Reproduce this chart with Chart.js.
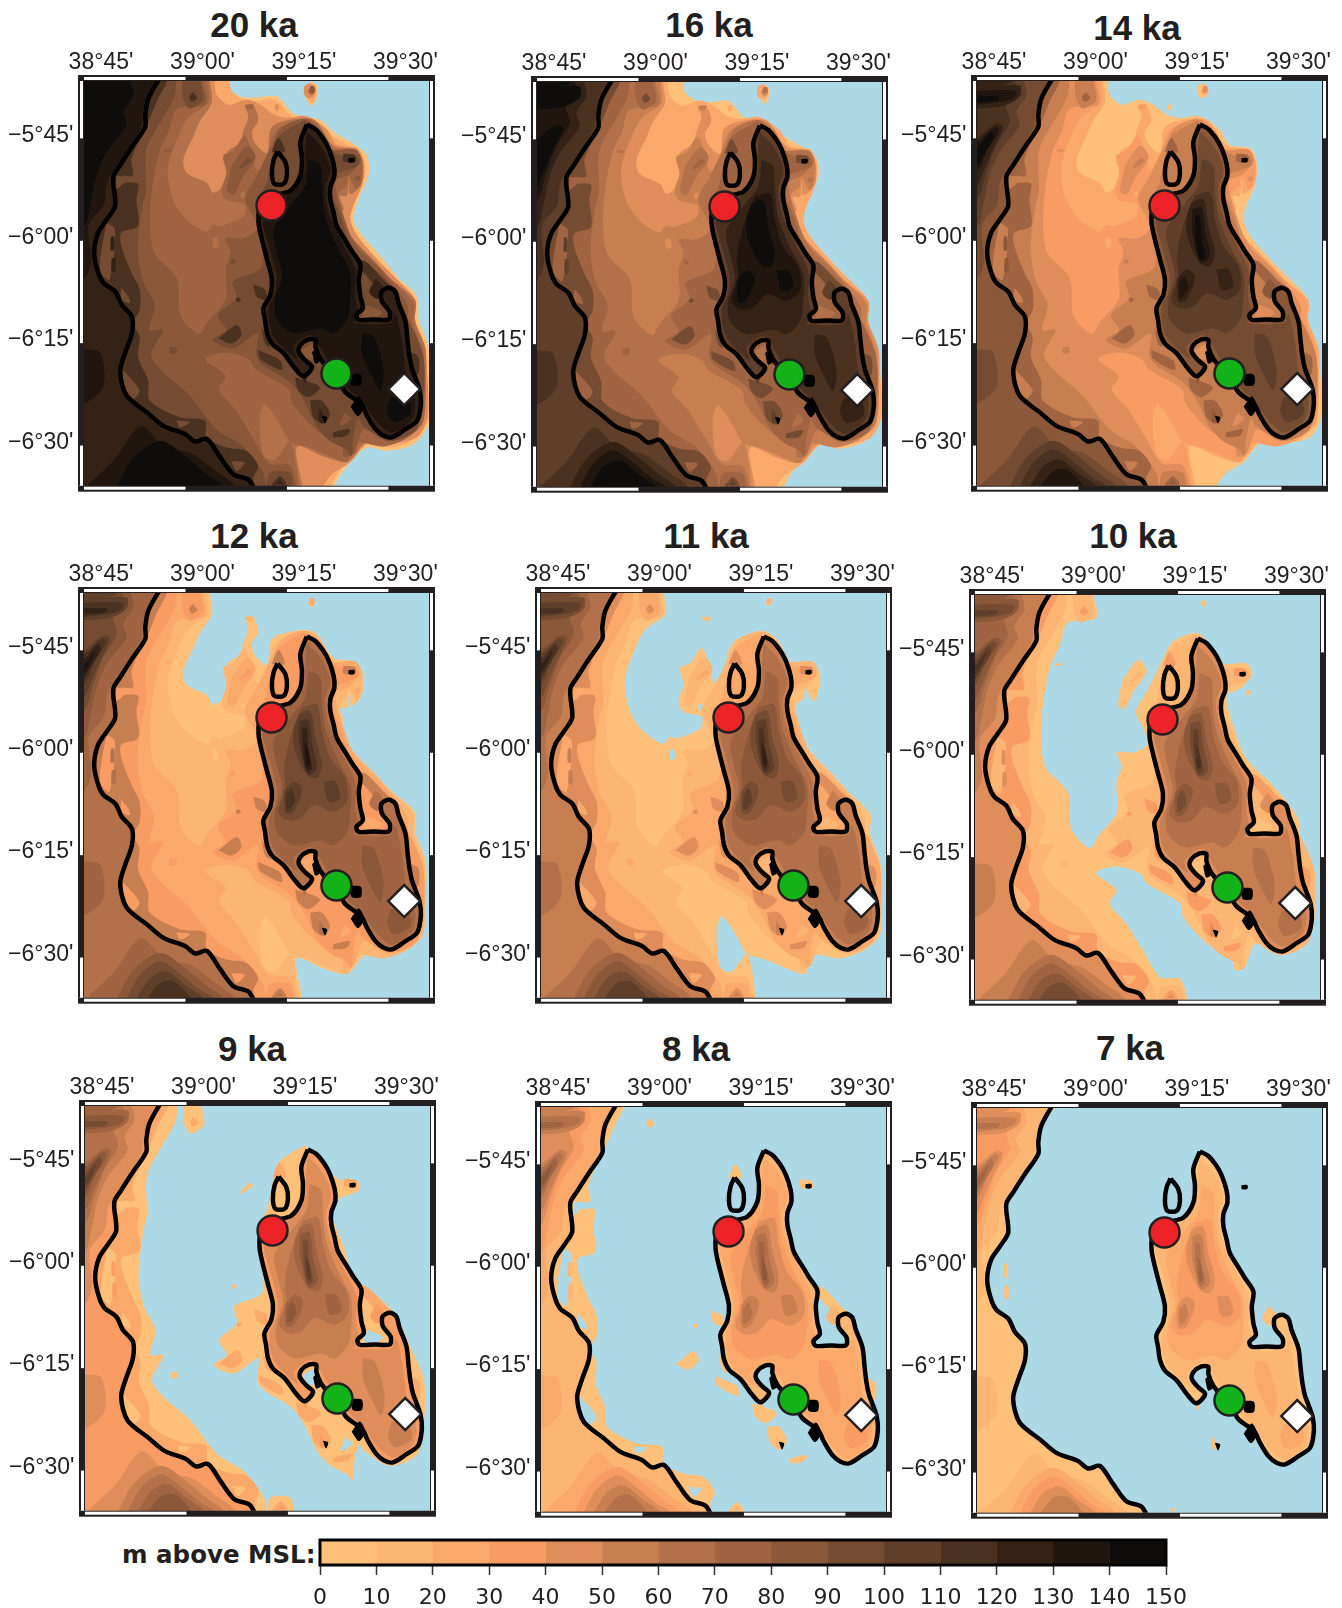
<!DOCTYPE html>
<html lang="en">
<head>
<meta charset="UTF-8">
<title>Palaeo-shorelines</title>
<script src="https://cdn.jsdelivr.net/npm/chart.js"></script>
<style>
    html, body { margin: 0; padding: 0; background: #fff; overflow: hidden; }
    body { position: relative; width: 1342px; height: 1608px; }
    canvas { position: absolute; }
    .panel-title {
        position: absolute; transform: translate(-50%, -50%); white-space: nowrap;
        font: bold 35px "Liberation Sans", Arial, sans-serif; color: #231f20;
    }
    #barLabel {
        position: absolute; left: 122px; top: 1554px; transform: translateY(-50%); white-space: nowrap;
        font: bold 24.5px "DejaVu Sans", sans-serif; color: #231f20;
    }
</style>
</head>
<body>
<div id="barLabel">m above MSL:</div>
<canvas id="colorBar" width="900" height="78" style="left:300px;top:1530px"></canvas>

<script>
// panels: title, and sea level in metres relative to the 7 ka sea
const panelNames = ['20 ka', '16 ka', '14 ka', '12 ka', '11 ka', '10 ka', '9 ka', '8 ka', '7 ka'];
const seaLevels = [-120, -100, -80, -60, -50, -40, -30, -10, 0];

// axes
const lonTicks = [38.75, 39, 39.25, 39.5];
const lonLabels = ["38°45'", "39°00'", "39°15'", "39°30'"];
const latTicks = [-5.75, -6, -6.25, -6.5];
const latLabels = ["−5°45'", "−6°00'", "−6°15'", "−6°30'"];

// colour scale
const barTicks = [0, 10, 20, 30, 40, 50, 60, 70, 80, 90, 100, 110, 120, 130, 140, 150];
const bandColors = ['#FFC07A', '#FDB574', '#FBA86B', '#F89C63', '#DF8E5B', '#C77F51', '#B2714B', '#A06442',
    '#8B5839', '#754C31', '#5F3F29', '#4A3120', '#352216', '#21160F', '#0E0D0C'];

// sites [lon, lat]
const redSite = [39.212, -5.914];
const greenSite = [39.372, -6.324];
const whiteSite = [39.539, -6.362];

// modern coastlines, flat lon,lat lists
const coastIsland = [39.299,-5.716, 39.320,-5.727, 39.339,-5.750, 39.353,-5.775, 39.365,-5.812, 39.367,-5.841, 39.357,-5.869, 39.357,-5.898, 39.365,-5.931, 39.373,-5.964, 39.398,-6.005, 39.410,-6.025, 39.431,-6.058, 39.427,-6.095, 39.431,-6.136, 39.437,-6.165, 39.421,-6.181, 39.427,-6.193, 39.464,-6.192, 39.501,-6.192, 39.503,-6.173, 39.484,-6.148, 39.483,-6.124, 39.501,-6.115, 39.517,-6.124, 39.525,-6.152, 39.542,-6.197, 39.547,-6.242, 39.552,-6.283, 39.558,-6.312, 39.566,-6.333, 39.577,-6.365, 39.580,-6.398, 39.571,-6.439, 39.542,-6.460, 39.509,-6.480, 39.488,-6.476, 39.468,-6.460, 39.447,-6.427, 39.435,-6.402, 39.416,-6.386, 39.394,-6.370, 39.377,-6.341, 39.353,-6.312, 39.332,-6.288, 39.320,-6.259, 39.320,-6.242, 39.303,-6.241, 39.283,-6.255, 39.279,-6.271, 39.295,-6.292, 39.312,-6.308, 39.291,-6.331, 39.270,-6.312, 39.242,-6.275, 39.213,-6.251, 39.201,-6.226, 39.196,-6.193, 39.192,-6.165, 39.209,-6.132, 39.213,-6.095, 39.201,-6.046, 39.188,-5.996, 39.180,-5.955, 39.184,-5.914, 39.213,-5.890, 39.258,-5.878, 39.283,-5.841, 39.287,-5.800, 39.283,-5.759];
const coastTumbatu = [39.227,-5.782, 39.246,-5.808, 39.250,-5.837, 39.242,-5.861, 39.219,-5.861, 39.213,-5.837, 39.217,-5.804];
const coastMainland = [38.944,-5.590, 38.909,-5.652, 38.901,-5.693, 38.901,-5.722, 38.868,-5.771, 38.839,-5.816, 38.822,-5.845, 38.827,-5.914, 38.810,-5.943, 38.785,-5.980, 38.775,-6.029, 38.785,-6.078, 38.798,-6.103, 38.827,-6.124, 38.843,-6.156, 38.868,-6.185, 38.868,-6.226, 38.851,-6.275, 38.839,-6.320, 38.855,-6.378, 38.905,-6.419, 38.946,-6.452, 38.999,-6.472, 39.024,-6.490, 39.053,-6.484, 39.086,-6.529, 39.118,-6.570, 39.155,-6.583, 39.172,-6.611];
const islet1 = [39.405,-6.325, 39.432,-6.327, 39.432,-6.352, 39.410,-6.352];
const islet2 = [39.407,-6.405, 39.427,-6.380, 39.440,-6.405, 39.425,-6.428];
const islet3 = [39.336,-6.427, 39.349,-6.431, 39.344,-6.446];
const islet4 = [39.402,-5.798, 39.416,-5.798, 39.416,-5.808, 39.402,-5.808];
const islet5 = [39.312,-6.272, 39.324,-6.262, 39.332,-6.292, 39.320,-6.300];

// contour polygons: land above each height
const land120 = [39.100,-5.570, 39.102,-5.623, 39.135,-5.648, 39.176,-5.650, 39.225,-5.648, 39.266,-5.689, 39.332,-5.705, 39.365,-5.734, 39.414,-5.763, 39.447,-5.791, 39.451,-5.841, 39.427,-5.898, 39.414,-5.947, 39.431,-5.980, 39.480,-6.037, 39.529,-6.095, 39.571,-6.136, 39.575,-6.193, 39.599,-6.259, 39.603,-6.333, 39.603,-6.439, 39.562,-6.497, 39.497,-6.513, 39.447,-6.505, 39.402,-6.546, 39.365,-6.599, 39.357,-6.636, 38.707,-6.636, 38.707,-5.570];
const rock120 = [39.312,-5.611, 39.326,-5.623, 39.322,-5.656, 39.312,-5.670, 39.298,-5.656, 39.295,-5.627];
const land100 = [39.110,-5.570, 39.112,-5.629, 39.143,-5.656, 39.176,-5.659, 39.221,-5.656, 39.262,-5.697, 39.328,-5.714, 39.358,-5.742, 39.408,-5.771, 39.439,-5.798, 39.443,-5.841, 39.418,-5.898, 39.406,-5.949, 39.423,-5.987, 39.472,-6.044, 39.523,-6.101, 39.562,-6.142, 39.566,-6.197, 39.591,-6.263, 39.595,-6.333, 39.595,-6.435, 39.556,-6.488, 39.497,-6.505, 39.443,-6.497, 39.396,-6.539, 39.358,-6.600, 39.353,-6.636, 38.707,-6.636, 38.707,-5.570];
const rock100 = [39.312,-5.615, 39.322,-5.626, 39.320,-5.652, 39.312,-5.664, 39.301,-5.652, 39.299,-5.629];
const land80 = [39.071,-5.570, 39.071,-5.604, 39.077,-5.643, 39.106,-5.668, 39.151,-5.655, 39.192,-5.672, 39.217,-5.692, 39.250,-5.700, 39.299,-5.696, 39.349,-5.729, 39.373,-5.766, 39.423,-5.774, 39.439,-5.807, 39.435,-5.864, 39.414,-5.914, 39.406,-5.946, 39.423,-5.987, 39.472,-6.045, 39.521,-6.094, 39.566,-6.143, 39.566,-6.192, 39.587,-6.266, 39.595,-6.315, 39.597,-6.430, 39.571,-6.479, 39.505,-6.496, 39.447,-6.496, 39.406,-6.541, 39.361,-6.570, 39.340,-6.600, 39.336,-6.636, 38.707,-6.636, 38.707,-5.570];
const rock80 = [39.306,-5.615, 39.320,-5.627, 39.316,-5.648, 39.303,-5.652, 39.293,-5.644, 39.293,-5.623];
const speck80 = [39.221,-5.667, 39.229,-5.667, 39.229,-5.681, 39.221,-5.681];
const land60 = [39.059,-5.570, 39.059,-5.604, 39.065,-5.662, 39.036,-5.707, 39.020,-5.744, 38.995,-5.801, 39.003,-5.834, 39.053,-5.859, 39.069,-5.883, 39.102,-5.855, 39.102,-5.785, 39.135,-5.760, 39.143,-5.730, 39.155,-5.697, 39.147,-5.670, 39.164,-5.667, 39.178,-5.693, 39.178,-5.711, 39.164,-5.734, 39.172,-5.763, 39.201,-5.785, 39.213,-5.722, 39.283,-5.701, 39.320,-5.707, 39.365,-5.768, 39.414,-5.777, 39.435,-5.801, 39.435,-5.859, 39.406,-5.886, 39.402,-5.849, 39.398,-5.890, 39.380,-5.891, 39.390,-5.923, 39.381,-5.932, 39.410,-5.998, 39.464,-6.055, 39.509,-6.096, 39.566,-6.146, 39.566,-6.195, 39.591,-6.260, 39.593,-6.326, 39.587,-6.433, 39.554,-6.474, 39.488,-6.494, 39.443,-6.494, 39.410,-6.531, 39.390,-6.541, 39.340,-6.527, 39.275,-6.502, 39.287,-6.600, 39.287,-6.636, 38.707,-6.636, 38.707,-5.570];
const rock60 = [39.312,-5.621, 39.320,-5.632, 39.312,-5.645, 39.302,-5.636];
const land50 = [39.052,-5.570, 39.052,-5.604, 39.056,-5.662, 39.011,-5.695, 38.990,-5.727, 38.957,-5.822, 38.970,-5.900, 39.003,-5.949, 39.052,-5.978, 39.068,-5.961, 39.085,-5.965, 39.142,-5.941, 39.146,-5.912, 39.101,-5.900, 39.089,-5.875, 39.101,-5.834, 39.093,-5.793, 39.118,-5.781, 39.146,-5.744, 39.167,-5.793, 39.175,-5.826, 39.196,-5.822, 39.212,-5.752, 39.233,-5.723, 39.298,-5.703, 39.335,-5.727, 39.364,-5.777, 39.418,-5.777, 39.434,-5.801, 39.434,-5.846, 39.422,-5.875, 39.401,-5.842, 39.397,-5.867, 39.377,-5.883, 39.377,-5.924, 39.409,-5.990, 39.463,-6.047, 39.508,-6.096, 39.561,-6.150, 39.561,-6.199, 39.586,-6.269, 39.586,-6.334, 39.586,-6.441, 39.545,-6.482, 39.487,-6.502, 39.422,-6.494, 39.401,-6.539, 39.377,-6.535, 39.307,-6.506, 39.257,-6.490, 39.233,-6.449, 39.196,-6.400, 39.183,-6.433, 39.192,-6.523, 39.220,-6.535, 39.257,-6.491, 39.270,-6.531, 39.278,-6.598, 39.278,-6.636, 38.707,-6.636, 38.707,-5.570];
const rock50 = [39.311,-5.623, 39.319,-5.633, 39.311,-5.642, 39.303,-5.633];
const speck50 = [39.147,-5.668, 39.168,-5.668, 39.164,-5.678, 39.151,-5.677];
const pond50a = [39.066,-5.996, 39.077,-5.992, 39.081,-6.013, 39.069,-6.017];
const pond50b = [39.286,-6.269, 39.303,-6.256, 39.307,-6.289, 39.290,-6.281];
const pond50c = [39.137,-5.882, 39.147,-5.880, 39.147,-5.894, 39.137,-5.894];
const pond50d = [39.446,-6.169, 39.455,-6.169, 39.455,-6.177, 39.446,-6.177];
const land40 = [39.041,-5.570, 39.041,-5.604, 39.049,-5.666, 38.979,-5.678, 38.959,-5.732, 38.934,-5.789, 38.914,-5.912, 38.922,-6.027, 38.979,-6.092, 38.988,-6.183, 39.033,-6.228, 39.053,-6.199, 39.099,-6.142, 39.099,-6.068, 39.111,-6.027, 39.099,-5.994, 39.144,-5.994, 39.177,-5.969, 39.148,-5.904, 39.148,-5.887, 39.173,-5.846, 39.214,-5.764, 39.238,-5.723, 39.296,-5.703, 39.337,-5.740, 39.362,-5.777, 39.419,-5.777, 39.432,-5.805, 39.403,-5.838, 39.370,-5.855, 39.386,-5.928, 39.419,-6.010, 39.485,-6.076, 39.547,-6.158, 39.547,-6.215, 39.584,-6.273, 39.588,-6.388, 39.567,-6.461, 39.501,-6.490, 39.440,-6.461, 39.415,-6.519, 39.390,-6.527, 39.386,-6.502, 39.321,-6.461, 39.263,-6.396, 39.255,-6.363, 39.173,-6.314, 39.156,-6.289, 39.099,-6.273, 39.049,-6.289, 39.099,-6.330, 39.082,-6.363, 39.123,-6.412, 39.164,-6.478, 39.206,-6.543, 39.255,-6.547, 39.273,-6.597, 39.273,-6.636, 38.707,-6.636, 38.707,-5.570];
const block40 = [39.115,-5.814, 39.152,-5.768, 39.173,-5.797, 39.140,-5.846, 39.119,-5.887, 39.103,-5.879];
const rock40a = [39.418,-5.843, 39.429,-5.843, 39.429,-5.853, 39.418,-5.853];
const rock40b = [39.307,-5.623, 39.317,-5.623, 39.317,-5.636, 39.307,-5.636];
const rock40c = [38.947,-5.777, 38.964,-5.777, 38.964,-5.782, 38.947,-5.782];
const pond40a = [39.443,-6.165, 39.455,-6.154, 39.465,-6.165, 39.455,-6.177];
const pond40b = [39.288,-6.260, 39.317,-6.248, 39.317,-6.273, 39.308,-6.285, 39.292,-6.285];
const pond40c = [38.796,-6.072, 38.806,-6.072, 38.806,-6.085, 38.796,-6.085];
const land30 = [38.977,-5.570, 38.977,-5.604, 38.973,-5.648, 38.944,-5.701, 38.903,-5.779, 38.903,-5.878, 38.895,-5.910, 38.882,-6.017, 38.895,-6.099, 38.924,-6.156, 38.911,-6.218, 38.944,-6.218, 38.915,-6.279, 38.944,-6.320, 39.010,-6.378, 39.076,-6.460, 39.141,-6.501, 39.191,-6.566, 39.199,-6.600, 39.207,-6.566, 39.256,-6.566, 39.265,-6.600, 39.265,-6.636, 38.707,-6.636, 38.707,-5.570];
const blob30 = [38.993,-5.570, 39.035,-5.570, 39.035,-5.604, 39.043,-5.656, 39.010,-5.677, 38.993,-5.648];
const isle30 = [39.293,-5.705, 39.372,-5.787, 39.425,-5.796, 39.425,-5.816, 39.367,-5.841, 39.359,-5.878, 39.384,-5.943, 39.413,-6.025, 39.470,-6.074, 39.511,-6.115, 39.544,-6.181, 39.585,-6.279, 39.585,-6.386, 39.569,-6.460, 39.503,-6.488, 39.437,-6.452, 39.425,-6.435, 39.413,-6.484, 39.409,-6.525, 39.396,-6.509, 39.355,-6.488, 39.322,-6.452, 39.289,-6.386, 39.257,-6.345, 39.191,-6.304, 39.174,-6.279, 39.178,-6.226, 39.117,-6.263, 39.067,-6.242, 39.100,-6.218, 39.080,-6.181, 39.125,-6.140, 39.117,-6.099, 39.183,-6.070, 39.192,-6.029, 39.178,-5.943, 39.174,-5.910, 39.199,-5.861, 39.211,-5.804, 39.228,-5.746];
const strip30 = [39.154,-5.796, 39.164,-5.804, 39.135,-5.824, 39.133,-5.820];
const rock30a = [39.112,-6.046, 39.122,-6.046, 39.122,-6.055, 39.112,-6.055];
const rock30b = [38.961,-6.260, 38.977,-6.260, 38.977,-6.274, 38.961,-6.274];
const pond30a = [38.800,-5.996, 38.809,-6.009, 38.800,-6.021];
const pond30b = [38.800,-6.050, 38.810,-6.062, 38.814,-6.095, 38.799,-6.091];
const pond30c = [39.446,-6.156, 39.483,-6.173, 39.474,-6.185, 39.437,-6.185];
const pond30d = [39.285,-6.267, 39.318,-6.251, 39.318,-6.288, 39.298,-6.288];
const pond30e = [39.392,-6.419, 39.409,-6.435, 39.380,-6.452];
const land10below = [38.957,-5.570, 38.957,-5.604, 38.929,-5.660, 38.912,-5.701, 38.867,-5.800, 38.871,-5.841, 38.842,-5.842, 38.842,-5.857, 38.883,-5.861, 38.879,-5.898, 38.883,-5.964, 38.842,-5.980, 38.842,-6.013, 38.867,-6.078, 38.887,-6.119, 38.887,-6.169, 38.871,-6.201, 38.887,-6.234, 38.883,-6.283, 38.908,-6.341, 38.912,-6.390, 38.986,-6.431, 39.048,-6.439, 39.052,-6.480, 39.101,-6.505, 39.150,-6.513, 39.179,-6.550, 39.167,-6.579, 39.171,-6.600, 39.171,-6.636, 38.707,-6.636, 38.707,-5.570];
const reefs10 = [
    [39.421,-6.050, 39.443,-6.050, 39.488,-6.095, 39.506,-6.115, 39.484,-6.128, 39.468,-6.111, 39.447,-6.087, 39.435,-6.074],
    [39.553,-6.271, 39.574,-6.283, 39.574,-6.324, 39.561,-6.324],
    [39.212,-5.783, 39.229,-5.749, 39.245,-5.783],
    [39.167,-6.107, 39.196,-6.119, 39.200,-6.144, 39.175,-6.136],
    [39.187,-6.210, 39.208,-6.259, 39.196,-6.251],
    [39.081,-6.238, 39.126,-6.206, 39.138,-6.230, 39.113,-6.251],
    [39.125,-6.140, 39.135,-6.140, 39.135,-6.148, 39.125,-6.148],
    [39.179,-6.267, 39.233,-6.292, 39.237,-6.316, 39.183,-6.288],
    [39.270,-6.333, 39.331,-6.357, 39.303,-6.382, 39.278,-6.365],
    [39.307,-6.390, 39.335,-6.390, 39.356,-6.423, 39.339,-6.447, 39.315,-6.431],
    [39.364,-6.468, 39.405,-6.460, 39.397,-6.476, 39.364,-6.479],
    [39.019,-5.636, 39.029,-5.652, 39.015,-5.660, 39.009,-5.648],
    [39.389,-5.787, 39.418,-5.791, 39.418,-5.808, 39.389,-5.806],
    [39.212,-6.595, 39.233,-6.575, 39.249,-6.595, 39.249,-6.636, 39.212,-6.636]
];
const lagoons10 = [
    [38.805,-5.955, 38.826,-5.972, 38.813,-6.095, 38.789,-6.070],
    [38.842,-6.115, 38.859,-6.136, 38.863,-6.152, 38.842,-6.144],
    [38.846,-6.316, 38.887,-6.365, 38.871,-6.386, 38.850,-6.374],
    [38.978,-6.439, 39.011,-6.443, 38.986,-6.456],
    [39.113,-6.538, 39.146,-6.542, 39.126,-6.562],
    [38.830,-5.841, 38.855,-5.849, 38.830,-5.873]
];
const main0 = [38.944,-5.570, 38.944,-5.604, 38.909,-5.652, 38.901,-5.693, 38.901,-5.722, 38.868,-5.771, 38.839,-5.816, 38.822,-5.845, 38.827,-5.914, 38.810,-5.943, 38.785,-5.980, 38.775,-6.029, 38.785,-6.078, 38.798,-6.103, 38.827,-6.124, 38.843,-6.156, 38.868,-6.185, 38.868,-6.226, 38.851,-6.275, 38.839,-6.320, 38.855,-6.378, 38.905,-6.419, 38.946,-6.452, 38.999,-6.472, 39.024,-6.490, 39.053,-6.484, 39.086,-6.529, 39.118,-6.570, 39.155,-6.583, 39.172,-6.611, 39.172,-6.636, 38.707,-6.636, 38.707,-5.570];
const bits0 = [
    [38.816,-5.990, 38.824,-5.990, 38.824,-6.023, 38.816,-6.023],
    [38.818,-6.043, 38.827,-6.043, 38.827,-6.076, 38.818,-6.076],
    [39.469,-6.092, 39.486,-6.113, 39.474,-6.142, 39.453,-6.125],
    [39.330,-6.408, 39.346,-6.441, 39.330,-6.441],
    [39.289,-6.338, 39.299,-6.328, 39.295,-6.349],
    [39.224,-6.593, 39.232,-6.585, 39.240,-6.593]
];
const nw10 = [38.943,-5.570, 38.943,-5.596, 38.898,-5.674, 38.890,-5.723, 38.845,-5.797, 38.808,-5.855, 38.799,-5.912, 38.762,-5.961, 38.767,-6.051, 38.750,-6.092, 38.709,-6.092, 38.709,-5.570];
const sw10 = [38.750,-6.265, 38.790,-6.273, 38.798,-6.355, 38.750,-6.398, 38.707,-6.398, 38.707,-6.265];
const south10 = [38.758,-6.597, 38.824,-6.535, 38.890,-6.453, 38.947,-6.502, 39.013,-6.519, 39.071,-6.560, 39.120,-6.597, 39.120,-6.636, 38.758,-6.636];
const isle10 = [39.299,-5.734, 39.332,-5.767, 39.357,-5.824, 39.344,-5.873, 39.353,-5.931, 39.386,-6.005, 39.418,-6.070, 39.418,-6.136, 39.427,-6.185, 39.414,-6.201, 39.505,-6.201, 39.517,-6.177, 39.534,-6.251, 39.542,-6.316, 39.566,-6.390, 39.558,-6.435, 39.509,-6.468, 39.476,-6.447, 39.439,-6.398, 39.398,-6.357, 39.365,-6.316, 39.332,-6.259, 39.307,-6.230, 39.266,-6.259, 39.275,-6.288, 39.242,-6.263, 39.213,-6.226, 39.205,-6.165, 39.221,-6.128, 39.225,-6.087, 39.201,-5.996, 39.192,-5.947, 39.242,-5.898, 39.291,-5.841, 39.295,-5.775];
const nw20 = [38.864,-5.570, 38.864,-5.604, 38.872,-5.644, 38.847,-5.685, 38.855,-5.718, 38.806,-5.783, 38.781,-5.841, 38.765,-5.914, 38.750,-5.964, 38.707,-5.964, 38.707,-5.570];
const south20 = [38.831,-6.600, 38.872,-6.529, 38.938,-6.488, 39.003,-6.529, 39.053,-6.570, 39.094,-6.600, 39.094,-6.636, 38.831,-6.636];
const isle20 = [39.303,-5.800, 39.332,-5.816, 39.336,-5.873, 39.344,-5.939, 39.373,-6.013, 39.406,-6.078, 39.406,-6.144, 39.398,-6.193, 39.365,-6.226, 39.332,-6.214, 39.266,-6.226, 39.225,-6.193, 39.221,-6.144, 39.238,-6.087, 39.225,-6.029, 39.217,-5.972, 39.258,-5.914, 39.295,-5.865];
const patch20a = [39.435,-6.226, 39.464,-6.234, 39.488,-6.316, 39.480,-6.365, 39.455,-6.324, 39.435,-6.275];
const patch20b = [39.505,-6.382, 39.546,-6.382, 39.554,-6.423, 39.513,-6.443, 39.497,-6.415];
const nw30 = [38.839,-5.570, 38.839,-5.604, 38.859,-5.644, 38.822,-5.668, 38.831,-5.709, 38.798,-5.767, 38.773,-5.832, 38.750,-5.898, 38.707,-5.898, 38.707,-5.570];
const south30 = [38.855,-6.600, 38.888,-6.542, 38.938,-6.509, 38.995,-6.546, 39.036,-6.579, 39.069,-6.600, 39.069,-6.636, 38.855,-6.636];
const isle30up = [39.287,-5.890, 39.324,-5.882, 39.336,-5.947, 39.357,-6.013, 39.394,-6.062, 39.398,-6.119, 39.365,-6.144, 39.316,-6.128, 39.283,-6.160, 39.250,-6.165, 39.229,-6.144, 39.246,-6.087, 39.242,-6.046, 39.250,-5.996, 39.266,-5.939];
const top40a = [38.707,-5.570, 38.827,-5.570, 38.827,-5.615, 38.707,-5.621];
const top40b = [38.707,-5.632, 38.855,-5.621, 38.851,-5.652, 38.806,-5.672, 38.707,-5.672];
const west40 = [38.707,-5.767, 38.750,-5.750, 38.798,-5.714, 38.814,-5.722, 38.790,-5.775, 38.765,-5.832, 38.750,-5.865, 38.707,-5.882];
const south40 = [38.880,-6.600, 38.913,-6.550, 38.954,-6.534, 39.003,-6.570, 39.044,-6.600, 39.044,-6.636, 38.880,-6.636];
const spine40 = [39.279,-5.906, 39.307,-5.898, 39.320,-5.964, 39.336,-6.029, 39.324,-6.062, 39.299,-6.054, 39.270,-5.996, 39.266,-5.947];
const hill40a = [39.242,-6.095, 39.266,-6.070, 39.287,-6.087, 39.266,-6.144, 39.246,-6.148];
const hill40b = [39.340,-6.070, 39.369,-6.070, 39.381,-6.111, 39.353,-6.119];
const top50 = [38.707,-5.640, 38.790,-5.632, 38.847,-5.636, 38.839,-5.652, 38.790,-5.664, 38.707,-5.667];
const west50 = [38.707,-5.775, 38.750,-5.759, 38.794,-5.722, 38.804,-5.730, 38.777,-5.775, 38.750,-5.832, 38.707,-5.849];
const south50 = [38.905,-6.600, 38.938,-6.562, 38.970,-6.558, 39.012,-6.600, 39.012,-6.636, 38.905,-6.636];
const spine50 = [39.281,-5.923, 39.303,-5.919, 39.312,-5.980, 39.324,-6.037, 39.303,-6.054, 39.287,-6.013, 39.279,-5.964];
const hill50 = [39.248,-6.103, 39.262,-6.087, 39.270,-6.119, 39.250,-6.140];
const top60 = [38.707,-5.648, 38.806,-5.648, 38.798,-5.659, 38.707,-5.660];
const west60 = [38.707,-5.783, 38.750,-5.771, 38.785,-5.734, 38.790,-5.750, 38.761,-5.800, 38.750,-5.816, 38.707,-5.828];
const spine60 = [39.287,-5.939, 39.298,-5.939, 39.303,-5.996, 39.312,-6.037, 39.299,-6.046, 39.289,-5.996];
const west70 = [38.707,-5.791, 38.750,-5.783, 38.777,-5.750, 38.769,-5.775, 38.750,-5.804, 38.707,-5.808];
const spine70 = [39.293,-5.972, 39.303,-5.996, 39.307,-6.029, 39.298,-6.033];

// ascending heights; hollows are painted with the band below this height
const terrainLevels = [
    { h: -120, land: [land120, rock120], hollows: [] },
    { h: -100, land: [land100, rock100], hollows: [] },
    { h: -80, land: [land80, rock80, speck80], hollows: [] },
    { h: -60, land: [land60, rock60], hollows: [] },
    { h: -50, land: [land50, rock50, speck50], hollows: [pond50a, pond50b, pond50c, pond50d] },
    { h: -40, land: [land40, block40, rock40a, rock40b, rock40c], hollows: [pond40a, pond40b, pond40c] },
    { h: -30, land: [land30, blob30, isle30, strip30, rock30a, rock30b], hollows: [pond30a, pond30b, pond30c, pond30d, pond30e] },
    { h: -10, land: [land10below, coastIsland, ...reefs10], hollows: lagoons10 },
    { h: 0, land: [main0, coastIsland, ...bits0], hollows: [] },
    { h: 10, land: [nw10, sw10, south10, isle10], hollows: [] },
    { h: 20, land: [nw20, south20, isle20, patch20a, patch20b], hollows: [] },
    { h: 30, land: [nw30, south30, isle30up], hollows: [] },
    { h: 40, land: [top40a, top40b, west40, south40, spine40, hill40a, hill40b], hollows: [] },
    { h: 50, land: [top50, west50, south50, spine50, hill50], hollows: [] },
    { h: 60, land: [top60, west60, spine60], hollows: [] },
    { h: 70, land: [west70, spine70], hollows: [] }
];

// where each map goes on the page
const panelLeft = [84, 537, 977, 84, 541, 975, 85, 541, 977];
const panelTop = [81, 82, 81, 593, 593, 595, 1106, 1107, 1108];
const titleX = [254, 709, 1137, 254, 706, 1133, 252, 696, 1130];
const titleY = [25, 25, 28, 536, 536, 536, 1049, 1049, 1048];

const SEA = '#add8e6';
const INK = '#231f20';
const LAT_TOP = -5.61, LAT_BOTTOM = -6.598, LON_LEFT = 38.75, LON_RIGHT = 39.6;

function toPoints(flat, closed) {
    const pts = [];
    for (let i = 0; i < flat.length; i += 2) pts.push({ x: flat[i], y: flat[i + 1] });
    if (closed) pts.push({ x: flat[0], y: flat[1] });
    return pts;
}

function bandColor(height, seaLevel) {
    if (height < seaLevel) return SEA;
    return bandColors[Math.min(bandColors.length - 1, Math.floor((height - seaLevel) / 10))];
}

function polygon(flat, color) {
    return { data: toPoints(flat, true), showLine: true, fill: 'shape', backgroundColor: color,
        borderWidth: 0, pointRadius: 0, tension: 0.3, capBezierPoints: false };
}

function outline(flat, closed) {
    return { data: toPoints(flat, closed), showLine: true, fill: false,
        borderColor: '#000', borderWidth: 4.5, borderJoinStyle: 'round',
        pointRadius: 0, tension: 0.3, capBezierPoints: false };
}

function site(pos, style, color, radius) {
    return { data: [{ x: pos[0], y: pos[1] }], showLine: false, pointStyle: style, pointRadius: radius,
        pointBackgroundColor: color, pointBorderColor: INK, pointBorderWidth: 2.5, clip: false };
}

function panelDatasets(seaLevel) {
    const sets = [];
    terrainLevels.forEach((level, i) => {
        if (level.h < seaLevel) return;
        const color = bandColor(level.h, seaLevel);
        level.land.forEach(flat => sets.push(polygon(flat, color)));
        const below = i > 0 ? bandColor(terrainLevels[i - 1].h, seaLevel) : SEA;
        level.hollows.forEach(flat => sets.push(polygon(flat, below)));
    });
    [islet1, islet2, islet3, islet4, islet5].forEach(flat => sets.push(polygon(flat, '#000')));
    sets.push(outline(coastMainland, false));
    sets.push(outline(coastIsland, true));
    sets.push(outline(coastTumbatu, true));
    sets.push(site(redSite, 'circle', '#ee2327', 15));
    sets.push(site(greenSite, 'circle', '#12b218', 15));
    sets.push(site(whiteSite, 'rectRot', '#ffffff', 16));
    // first dataset has to be painted first
    sets.forEach((s, i) => { s.order = sets.length - i; });
    return sets;
}

// sea behind the map
const seaPlugin = {
    id: 'sea',
    beforeDatasetsDraw(chart) {
        const a = chart.chartArea, ctx = chart.ctx;
        ctx.save();
        ctx.fillStyle = SEA;
        ctx.fillRect(a.left, a.top, a.width, a.height);
        ctx.restore();
    }
};

// black and white map frame, changes colour at each tick
const framePlugin = {
    id: 'mapFrame',
    afterDatasetsDraw(chart) {
        const ctx = chart.ctx, a = chart.chartArea, w = 5;
        const xs = [...lonTicks, LON_RIGHT].map(v => chart.scales.x.getPixelForValue(v));
        const ys = [LAT_TOP, ...latTicks, LAT_BOTTOM].map(v => chart.scales.y.getPixelForValue(v));
        ctx.save();
        ctx.fillStyle = INK;
        ctx.fillRect(a.left - w - 1, a.top - w - 1, a.width + 2 * w + 2, w + 1);
        ctx.fillRect(a.left - w - 1, a.bottom, a.width + 2 * w + 2, w + 1);
        ctx.fillRect(a.left - w - 1, a.top, w + 1, a.height);
        ctx.fillRect(a.right, a.top, w + 1, a.height);
        ctx.fillStyle = '#fff';
        for (let i = 0; i < xs.length - 1; i += 2) {
            ctx.fillRect(xs[i], a.top - w + 1, xs[i + 1] - xs[i], w - 2);
            ctx.fillRect(xs[i], a.bottom + 1, xs[i + 1] - xs[i], w - 2);
        }
        for (let i = 0; i < ys.length - 1; i += 2) {
            ctx.fillRect(a.left - w + 1, ys[i], w - 2, ys[i + 1] - ys[i]);
            ctx.fillRect(a.right + 1, ys[i], w - 2, ys[i + 1] - ys[i]);
        }
        ctx.restore();
    }
};

function drawPanel(n) {
    const title = document.createElement('div');
    title.className = 'panel-title';
    title.textContent = panelNames[n];
    title.style.left = titleX[n] + 'px';
    title.style.top = titleY[n] + 'px';
    document.body.appendChild(title);

    const canvas = document.createElement('canvas');
    canvas.width = 454;
    canvas.height = 501;
    canvas.style.left = (panelLeft[n] - 84) + 'px';
    canvas.style.top = (panelTop[n] - 80) + 'px';
    document.body.appendChild(canvas);

    const tickFont = { family: '"Liberation Sans", Arial, sans-serif', size: 23 };
    new Chart(canvas.getContext('2d'), {
        type: 'scatter',
        data: { datasets: panelDatasets(seaLevels[n]) },
        options: {
            responsive: false,
            animation: false,
            events: [],
            layout: { autoPadding: false, padding: { right: 25, bottom: 10 } },
            plugins: { legend: { display: false }, tooltip: { enabled: false } },
            scales: {
                x: {
                    type: 'linear', position: 'top', min: LON_LEFT, max: LON_RIGHT,
                    grid: { display: false }, border: { display: false },
                    afterBuildTicks: s => { s.ticks = lonTicks.map(v => ({ value: v })); },
                    afterFit: s => { s.height = 80; },
                    ticks: { autoSkip: false, maxRotation: 0, font: tickFont, color: INK, padding: -3,
                        labelOffset: 17, callback: (v, i) => lonLabels[i] }
                },
                y: {
                    type: 'linear', min: LAT_BOTTOM, max: LAT_TOP,
                    grid: { display: false }, border: { display: false },
                    afterBuildTicks: s => { s.ticks = latTicks.map(v => ({ value: v })); },
                    afterFit: s => { s.width = 84; },
                    ticks: { autoSkip: false, font: tickFont, color: INK, padding: 2.5,
                        labelOffset: -3, callback: (v, i) => latLabels[i] }
                }
            }
        },
        plugins: [seaPlugin, framePlugin]
    });
}

panelNames.forEach((name, n) => drawPanel(n));

// colour scale at the bottom
const barFrame = {
    id: 'barFrame',
    afterDatasetsDraw(chart) {
        const a = chart.chartArea, ctx = chart.ctx;
        ctx.save();
        ctx.strokeStyle = '#000';
        ctx.lineWidth = 3;
        ctx.strokeRect(a.left, a.top, a.width, a.height);
        ctx.restore();
    }
};

new Chart(document.getElementById('colorBar').getContext('2d'), {
    type: 'bar',
    data: {
        labels: ['m above MSL'],
        datasets: bandColors.map((color, i) => ({
            data: [barTicks[i + 1] - barTicks[i]], backgroundColor: color,
            barPercentage: 1, categoryPercentage: 1
        }))
    },
    options: {
        indexAxis: 'y',
        responsive: false,
        animation: false,
        events: [],
        layout: { autoPadding: false, padding: { left: 20, right: 34, top: 10 } },
        plugins: { legend: { display: false }, tooltip: { enabled: false } },
        scales: {
            x: {
                type: 'linear', stacked: true, min: 0, max: 150, position: 'bottom',
                border: { display: false },
                grid: { drawOnChartArea: false, tickLength: 10, tickColor: '#333', tickWidth: 1.5 },
                afterBuildTicks: s => { s.ticks = barTicks.map(v => ({ value: v })); },
                afterFit: s => { s.height = 43; },
                ticks: { autoSkip: false, maxRotation: 0, padding: 10, color: INK,
                    font: { family: '"DejaVu Sans", sans-serif', size: 22 } }
            },
            y: { stacked: true, display: false }
        }
    },
    plugins: [barFrame]
});
</script>
</body>
</html>
